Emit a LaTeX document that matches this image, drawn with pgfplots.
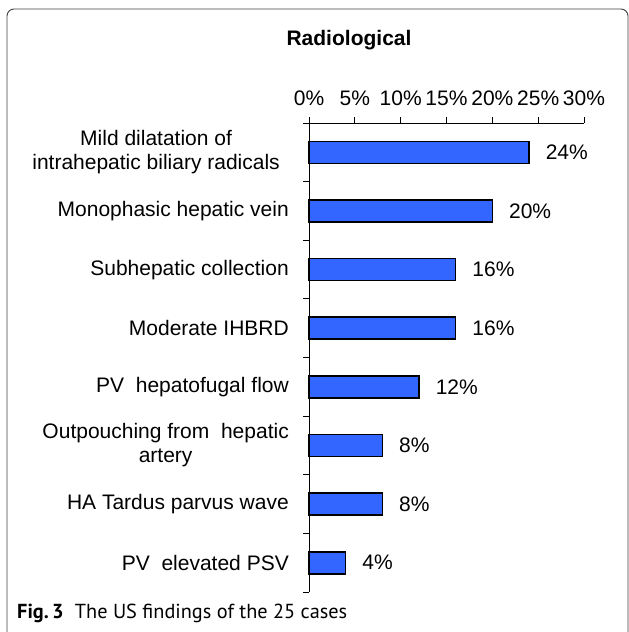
\documentclass[border=0pt]{standalone}
\usepackage{fontspec}
\setmainfont{Liberation Sans}
\newfontfamily\capfont{PT Sans}
\usepackage{pgfplots}
\pgfplotsset{compat=1.18}
\definecolor{barblue}{RGB}{51,102,255}
\newcommand{\chartfont}{\fontsize{21bp}{24bp}\selectfont}
\begin{document}
\begin{tikzpicture}[x=1bp,y=1bp]
\useasboundingbox (0,0) rectangle (629,-632);
\draw[rounded corners=7bp, draw=black!75, line width=0.9bp] (7,-9) rectangle (628,-645);
\node[font=\chartfont\bfseries, anchor=base, inner sep=0pt] at (349,-46) {Radiological};
\node[font=\capfont\fontsize{20.3bp}{23bp}\selectfont, anchor=base west, inner sep=0pt] at (17,-618) {\textbf{Fig.\,3}\hspace{0.55em}The US findings of the 25 cases};
\begin{axis}[
  at={(309bp,-592bp)}, anchor=south west,
  scale only axis, width=275bp, height=469bp,
  xmin=0, xmax=30, ymin=-0.5, ymax=7.5,
  axis x line*=top, axis y line*=left,
  axis line style={line width=0.8bp, black},
  tick style={line width=0.8bp, black},
  tick align=outside,
  major tick length=6bp,
  /pgf/number format/assume math mode=true,
  xtick={0,5,...,30},
  xticklabels={0\%,5\%,10\%,15\%,20\%,25\%,30\%},
  xticklabel style={font=\chartfont, inner sep=0pt, anchor=base, yshift=12bp},
  ytick={-0.5,0.5,...,7.5},
  yticklabels={},
  extra y ticks={0,1,2,3,4,5,6,7},
  extra y tick labels={{PV\ \ elevated PSV},{HA Tardus parvus wave},{Outpouching from\ \ hepatic\\artery},{PV\ \ hepatofugal flow},{Moderate IHBRD},{Subhepatic collection},{Monophasic hepatic vein},{\begin{tabular}{@{}c@{}}Mild dilatation of\\intrahepatic biliary radicals\end{tabular}\hspace*{9bp}}},
  extra y tick style={major tick length=0pt, tick style={draw=none}},
  yticklabel style={font=\chartfont, align=center, anchor=east, inner sep=0pt, xshift=-20bp},
  point meta=x,
  nodes near coords={\pgfmathprintnumber{\pgfplotspointmeta}\%},
  every node near coord/.append style={font=\chartfont, anchor=west, inner sep=0pt, xshift=16bp, black},
  clip=false,
]
\addplot[xbar, fill=barblue, draw=black, line width=1.6bp, bar width=22bp]
  coordinates {(24,7) (20,6) (16,5) (16,4) (12,3) (8,2) (8,1) (4,0)};
\end{axis}
\end{tikzpicture}
\end{document}
